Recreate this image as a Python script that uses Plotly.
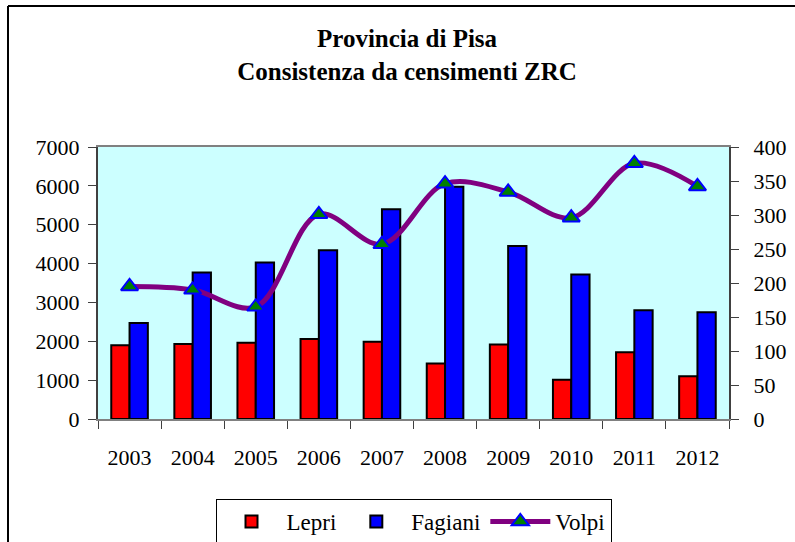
import plotly.graph_objects as go

years = ["2003", "2004", "2005", "2006", "2007", "2008", "2009", "2010", "2011", "2012"]
lepri = [1900, 1930, 1960, 2060, 1990, 1430, 1920, 1010, 1720, 1100]
fagiani = [2470, 3770, 4030, 4340, 5400, 5980, 4450, 3720, 2800, 2750]
volpi = [195, 190, 165, 301, 257, 346, 334, 296, 376, 342]

FONT = "Liberation Serif"

fig = go.Figure()
fig.add_trace(go.Bar(x=years, y=lepri, name="Lepri",
                     marker=dict(color="#FF0000", line=dict(color="black", width=2))))
fig.add_trace(go.Bar(x=years, y=fagiani, name="Fagiani",
                     marker=dict(color="#0000FF", line=dict(color="black", width=2))))
fig.add_trace(go.Scatter(x=years, y=volpi, name="Volpi", yaxis="y2", mode="lines+markers",
                         line=dict(color="#800080", width=5, shape="spline", smoothing=1),
                         marker=dict(symbol="triangle-up", size=15, color="#008000",
                                     line=dict(color="#0000FF", width=2))))

fig.update_layout(
    width=795, height=542,
    margin=dict(l=98, r=66, t=147, b=123, autoexpand=False),
    paper_bgcolor="white",
    plot_bgcolor="#CCFFFF",
    font=dict(family=FONT, size=22, color="black"),
    title=dict(text="<b>Provincia di Pisa</b><br><b>Consistenza da censimenti ZRC</b>",
               x=0.512, xanchor="center", y=0.913, yanchor="top",
               font=dict(family=FONT, size=25, color="black")),
    barmode="group", bargap=0.42, bargroupgap=0,
    showlegend=True,
    legend=dict(orientation="h", x=0.5, xanchor="center", y=-0.294, yanchor="top",
                bordercolor="black", borderwidth=1, bgcolor="white",
                font=dict(family=FONT, size=23), itemwidth=60, tracegroupgap=0),
    xaxis=dict(range=[-0.5, 9.5], showline=True, mirror=True, linecolor="#808080", linewidth=2,
               ticks="outside", ticklen=8, tickcolor="#404040", tickson="boundaries",
               ticklabelstandoff=18, showgrid=False, automargin=False),
    yaxis=dict(range=[0, 7000], dtick=1000, showline=True, linecolor="#404040", linewidth=2,
               ticks="outside", ticklen=8, tickcolor="#404040", showgrid=False,
               ticklabelstandoff=4, zeroline=False, automargin=False),
    yaxis2=dict(range=[0, 400], dtick=50, overlaying="y", side="right", showline=True,
                linecolor="#404040", linewidth=2, ticks="outside", ticklen=8,
                tickcolor="#404040", showgrid=False, ticklabelstandoff=10, zeroline=False,
                automargin=False),
    shapes=[
        dict(type="line", xref="paper", yref="paper", x0=-90/631, x1=1.2, y0=413/272, y1=413/272,
             line=dict(color="black", width=2)),
        dict(type="line", xref="paper", yref="paper", x0=-90/631, x1=-90/631, y0=413/272, y1=-0.5,
             line=dict(color="black", width=2)),
    ],
)

fig.write_html("out.html", config={"displayModeBar": False},
               post_script="document.body.style.margin='0px';")
